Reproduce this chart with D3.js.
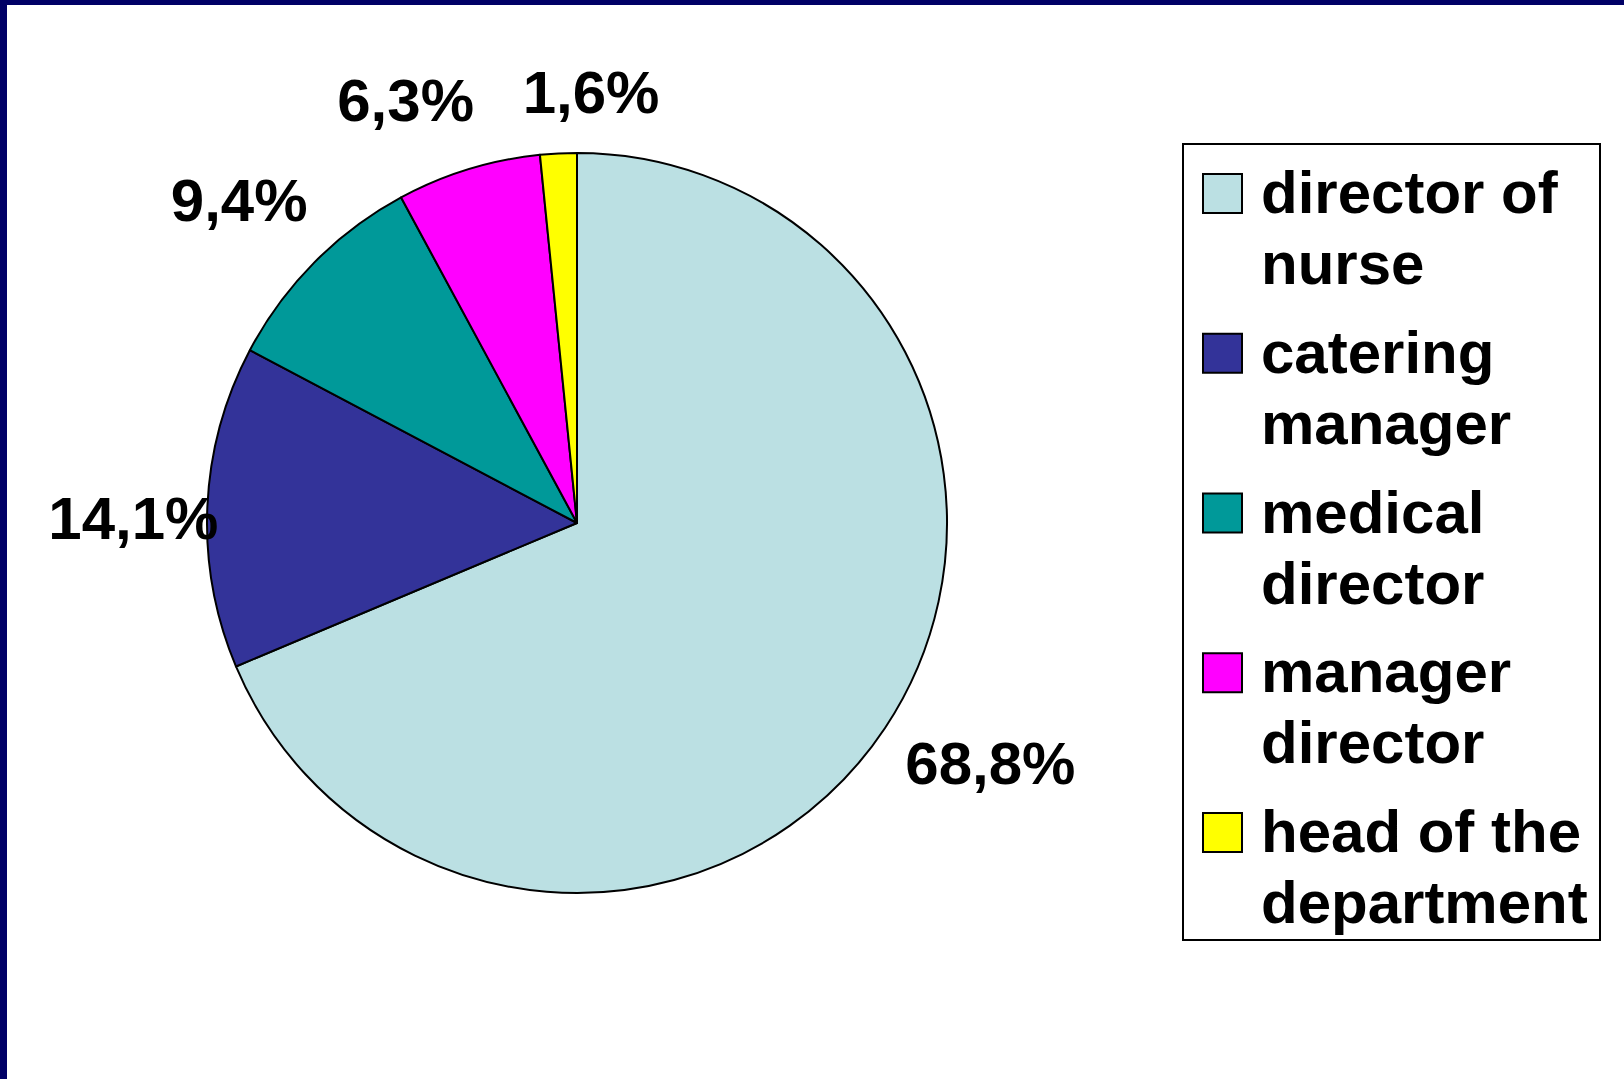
<!DOCTYPE html>
<html>
<head>
<meta charset="utf-8">
<script src="https://cdn.jsdelivr.net/npm/d3@7"></script>
<style>
  html, body { margin: 0; padding: 0; background: #fff; }
  svg { display: block; }
  text { font-family: "Liberation Sans", Arial, sans-serif; font-weight: bold; fill: #000; }
</style>
</head>
<body>
<svg id="chart" width="1624" height="1079"></svg>
<script>
// ---- data ----
const categories = ["director of nurse", "catering manager", "medical director", "manager director", "head of the department"];
const legendLines = [["director of", "nurse"], ["catering", "manager"], ["medical", "director"], ["manager", "director"], ["head of the", "department"]];
const values = [68.8, 14.1, 9.4, 6.3, 1.6];
const valueLabels = ["68,8%", "14,1%", "9,4%", "6,3%", "1,6%"];
const colors = ["#BBE0E3", "#333399", "#009999", "#FF00FF", "#FFFF00"];

// ---- layout ----
const W = 1624, H = 1079;
const cx = 577, cy = 523, R = 370;
const labelGap = 40, fontSize = 60, capH = 43;
// manual label nudges (Excel best-fit adjustments)
const labelNudge = [[1, 1], [51, 13], [2, -20], [-31, -11], [38, -1]];

const svg = d3.select("#chart");
svg.append("rect").attr("width", W).attr("height", H).attr("fill", "#fff");
// frame (left + top)
svg.append("rect").attr("x", 0).attr("y", 0).attr("width", 7).attr("height", H).attr("fill", "#000066");
svg.append("rect").attr("x", 0).attr("y", 0).attr("width", W).attr("height", 5).attr("fill", "#000066");

const data = categories.map((c, i) => ({ cat: c, value: values[i], label: valueLabels[i], color: colors[i], i }));

const pie = d3.pie().value(d => d.value).sort(null);
const arcs = pie(data);
const arc = d3.arc().innerRadius(0).outerRadius(R);

const g = svg.append("g").attr("transform", `translate(${cx},${cy})`);
g.selectAll("path.slice").data(arcs).enter().append("path")
  .attr("class", "slice")
  .attr("d", arc)
  .attr("fill", d => d.data.color)
  .attr("stroke", "#000")
  .attr("stroke-width", 2)
  .attr("stroke-linejoin", "round");

// labels
const labels = g.selectAll("text.lbl").data(arcs).enter().append("text")
  .attr("class", "lbl")
  .attr("text-anchor", "middle")
  .style("font-size", fontSize + "px")
  .text(d => d.data.label);

labels.each(function(d) {
  const t = d3.select(this);
  const w = this.getBBox().width;
  const mid = (d.startAngle + d.endAngle) / 2;
  const dx = Math.sin(mid), dy = -Math.cos(mid);
  const x = dx * (R + labelGap) + dx * w / 2 + labelNudge[d.data.i][0];
  const y = dy * (R + labelGap) + dy * capH / 2 + labelNudge[d.data.i][1];
  t.attr("x", x).attr("y", y + capH / 2);
});

// legend
const lg = svg.append("g");
const lx = 1183, ly = 144, lw = 417, lh = 796;
lg.append("rect").attr("x", lx).attr("y", ly).attr("width", lw).attr("height", lh)
  .attr("fill", "#fff").attr("stroke", "#000").attr("stroke-width", 2);

const itemY = d3.scalePoint().domain(d3.range(categories.length)).range([213, 852]);
const items = lg.selectAll("g.item").data(data).enter().append("g").attr("class", "item");
items.append("rect")
  .attr("x", 1203).attr("y", d => itemY(d.i) - 39)
  .attr("width", 39).attr("height", 39)
  .attr("fill", d => d.color).attr("stroke", "#000").attr("stroke-width", 2);
items.each(function(d) {
  const t = d3.select(this).append("text")
    .attr("x", 1261).attr("y", itemY(d.i))
    .style("font-size", fontSize + "px");
  legendLines[d.i].forEach((line, k) => {
    t.append("tspan").attr("x", 1261).attr("dy", k === 0 ? 0 : 71).text(line);
  });
});
</script>
</body>
</html>
